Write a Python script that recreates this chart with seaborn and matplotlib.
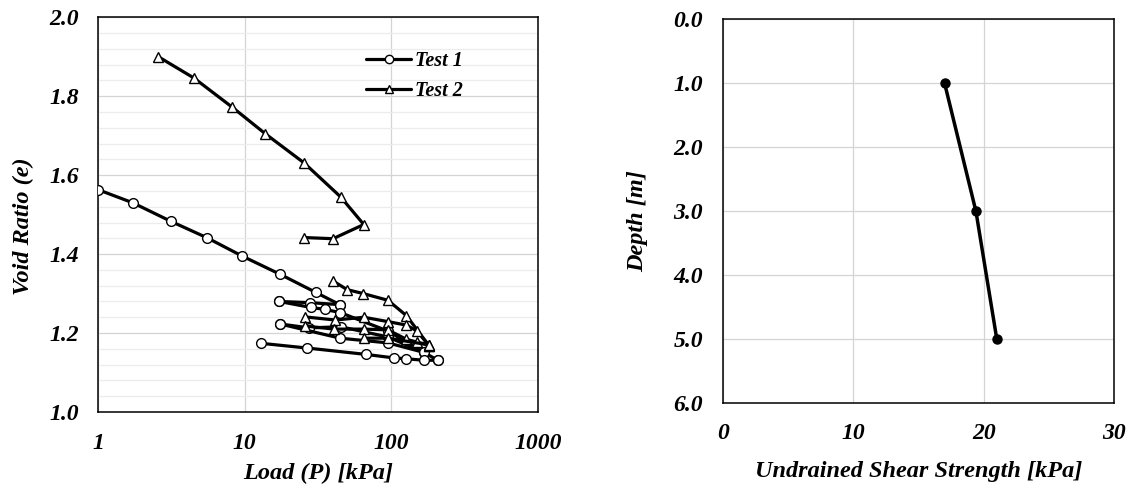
import numpy as np
import pandas as pd
import matplotlib
matplotlib.use("Agg")
import matplotlib.pyplot as plt
import seaborn as sns
from matplotlib.lines import Line2D
from matplotlib.ticker import MultipleLocator, FixedLocator, NullFormatter, FormatStrFormatter, LogLocator

# ---------------- data ----------------
# Test 1 (circles): load P [kPa] / void ratio e, loading-unloading segments
t1_s1_p = [1.0, 1.72, 3.13, 5.55, 9.6, 17.4, 30.5, 44.5]
t1_s1_e = [1.563, 1.530, 1.483, 1.441, 1.395, 1.349, 1.303, 1.272]
t1_s2_p = [44.5, 27.9, 17.2]
t1_s2_e = [1.272, 1.277, 1.280]
t1_s3_p = [17.2, 28.1, 35.1, 44.7, 95.0, 167.0]
t1_s3_e = [1.280, 1.265, 1.260, 1.252, 1.205, 1.151]
t1_s4_p = [167.0, 95.0, 45.1, 27.6, 17.4]
t1_s4_e = [1.151, 1.190, 1.216, 1.213, 1.223]
t1_s5_p = [17.4, 44.7, 95.0, 167.0, 208.0]
t1_s5_e = [1.223, 1.187, 1.175, 1.151, 1.131]
t1_s6_p = [208.0, 167.0, 125.3, 104.3, 66.8, 26.7, 12.9]
t1_s6_e = [1.131, 1.131, 1.135, 1.137, 1.146, 1.162, 1.174]

# Test 2 (triangles)
t2_s1_p = [2.57, 4.5, 8.22, 13.8, 25.4, 45.1, 64.9, 40.0, 25.4]
t2_s1_e = [1.900, 1.846, 1.772, 1.705, 1.631, 1.545, 1.475, 1.439, 1.442]
t2_s2_p = [40.0, 50.0, 64.4, 94.9, 127.0, 181.0]
t2_s2_e = [1.332, 1.310, 1.300, 1.283, 1.244, 1.168]
t2_s3_p = [181.0, 150.0, 127.0, 94.9, 65.0, 41.5, 25.6]
t2_s3_e = [1.168, 1.205, 1.220, 1.229, 1.240, 1.233, 1.241]
t2_s4_p = [25.6, 40.6, 65.0, 94.9, 127.0, 150.0, 181.0]
t2_s4_e = [1.218, 1.210, 1.210, 1.208, 1.184, 1.177, 1.170]
t2_s5_p = [181.0, 94.9, 65.0]
t2_s5_e = [1.170, 1.187, 1.187]

# Shear strength profile
su_kpa = [17.0, 19.4, 21.0]
depth_m = [1.0, 3.0, 5.0]

x_ticks_log = [1, 10, 100, 1000]
x_tick_labels_log = ["1", "10", "100", "1000"]

# ---------------- assemble tables ----------------
def build(test, segs):
    rows = []
    for k, (p, e) in enumerate(segs):
        for i, (pp, ee) in enumerate(zip(p, e)):
            rows.append(dict(test=test, seg=f"{test}-{k}", order=i, p=pp, e=ee))
    return rows

rows = build("Test 1", [(t1_s1_p, t1_s1_e), (t1_s2_p, t1_s2_e), (t1_s3_p, t1_s3_e),
                        (t1_s4_p, t1_s4_e), (t1_s5_p, t1_s5_e), (t1_s6_p, t1_s6_e)])
rows += build("Test 2", [(t2_s1_p, t2_s1_e), (t2_s2_p, t2_s2_e), (t2_s3_p, t2_s3_e),
                         (t2_s4_p, t2_s4_e), (t2_s5_p, t2_s5_e)])
df = pd.DataFrame(rows)
prof = pd.DataFrame({"su": su_kpa, "depth": depth_m})

# ---------------- style ----------------
sns.set_style("white")
plt.rcParams["font.family"] = ["Liberation Serif", "DejaVu Serif"]
plt.rcParams["font.weight"] = "bold"
plt.rcParams["font.style"] = "italic"
plt.rcParams["axes.labelweight"] = "bold"
plt.rcParams["text.color"] = "black"
plt.rcParams["axes.labelcolor"] = "black"
plt.rcParams["xtick.color"] = "black"
plt.rcParams["ytick.color"] = "black"
plt.rcParams["xtick.labelcolor"] = "black"
plt.rcParams["ytick.labelcolor"] = "black"

fig = plt.figure(figsize=(11.29, 4.86), dpi=100)
ax1 = fig.add_axes([0.0871, 0.1523, 0.3892, 0.8121])
ax2 = fig.add_axes([0.6401, 0.1702, 0.3469, 0.7901])

LW = 2.3
TICK_FS = 17
LABEL_FS = 17.5
# ---------------- left panel ----------------
for test, mk, ms in [("Test 1", "o", 7), ("Test 2", "^", 7.5)]:
    sub = df[df.test == test]
    for seg, g in sub.groupby("seg", sort=False):
        sns.lineplot(data=g, x="p", y="e", sort=False, estimator=None, ax=ax1,
                     color="black", lw=LW, marker=mk, markersize=ms,
                     markerfacecolor="white", markeredgecolor="black",
                     markeredgewidth=1.0, legend=False, zorder=3)

ax1.set_xscale("log")
ax1.set_xlim(1, 1000)
ax1.set_ylim(1.0, 2.0)
ax1.xaxis.set_major_locator(FixedLocator(x_ticks_log))
ax1.set_xticklabels(x_tick_labels_log)
ax1.xaxis.set_minor_locator(LogLocator(base=10, subs=np.arange(2, 10)))
ax1.xaxis.set_minor_formatter(NullFormatter())
ax1.yaxis.set_major_locator(MultipleLocator(0.2))
ax1.yaxis.set_minor_locator(MultipleLocator(0.04))
ax1.yaxis.set_major_formatter(FormatStrFormatter("%.1f"))

ax1.grid(True, which="major", axis="both", color="#d4d4d4", lw=0.9)
ax1.grid(True, which="minor", axis="y", color="#ececec", lw=0.9)
ax1.set_axisbelow(True)

ax1.tick_params(axis="x", which="both", direction="out", length=4, width=1, color="black",
                pad=11, labelsize=TICK_FS, labelcolor="black")
ax1.tick_params(axis="y", which="both", direction="out", length=5, width=1, color="black",
                pad=9, labelsize=TICK_FS, labelcolor="black")
ax1.set_xlabel("Load (P) [kPa]", fontsize=LABEL_FS, fontweight="bold", va="center", color="black")
ax1.set_ylabel("Void Ratio (e)", fontsize=LABEL_FS, fontweight="bold", va="center", color="black")
ax1.xaxis.set_label_coords(0.5, -0.155)
ax1.yaxis.set_label_coords(-0.171, 0.47)

handles = [Line2D([], [], color="black", lw=LW, marker="o", ms=6, mfc="white", mec="black", mew=1),
           Line2D([], [], color="black", lw=LW, marker="^", ms=6, mfc="white", mec="black", mew=1)]
leg = ax1.legend(handles, ["Test 1", "Test 2"], loc="upper left", bbox_to_anchor=(0.61, 0.915),
                 frameon=False, fontsize=14.5, handlelength=2.2, handletextpad=0.2,
                 labelspacing=0.5, borderpad=0, borderaxespad=0)
for t in leg.get_texts():
    t.set_color("black")

# ---------------- right panel ----------------
sns.lineplot(data=prof, x="su", y="depth", sort=False, estimator=None, ax=ax2,
             color="black", lw=2.5, marker="o", markersize=6.5,
             markerfacecolor="black", markeredgecolor="black", markeredgewidth=1,
             legend=False, zorder=3)
ax2.set_xlim(0, 30)
ax2.set_ylim(6, 0)
ax2.xaxis.set_major_locator(MultipleLocator(10))
ax2.xaxis.set_minor_locator(MultipleLocator(2))
ax2.yaxis.set_major_locator(MultipleLocator(1))
ax2.yaxis.set_minor_locator(MultipleLocator(0.5))
ax2.yaxis.set_major_formatter(FormatStrFormatter("%.1f"))
ax2.grid(True, which="major", axis="both", color="#d4d4d4", lw=0.9)
ax2.set_axisbelow(True)
ax2.tick_params(axis="x", which="both", direction="in", length=5, width=1, color="black",
                pad=14, labelsize=TICK_FS, labelcolor="black")
ax2.tick_params(axis="y", which="both", direction="out", length=5, width=1, color="black",
                pad=9, labelsize=TICK_FS, labelcolor="black")
ax2.set_xlabel("Undrained Shear Strength [kPa]", fontsize=LABEL_FS, fontweight="bold",
               va="center", color="black")
ax2.set_ylabel("Depth [m]", fontsize=LABEL_FS, fontweight="bold", va="center", color="black")
ax2.xaxis.set_label_coords(0.5, -0.178)
ax2.yaxis.set_label_coords(-0.216, 0.474)

for ax in (ax1, ax2):
    for s in ax.spines.values():
        s.set_visible(True)
        s.set_color("black")
        s.set_linewidth(1.1)

fig.savefig("out.png", dpi=100)
